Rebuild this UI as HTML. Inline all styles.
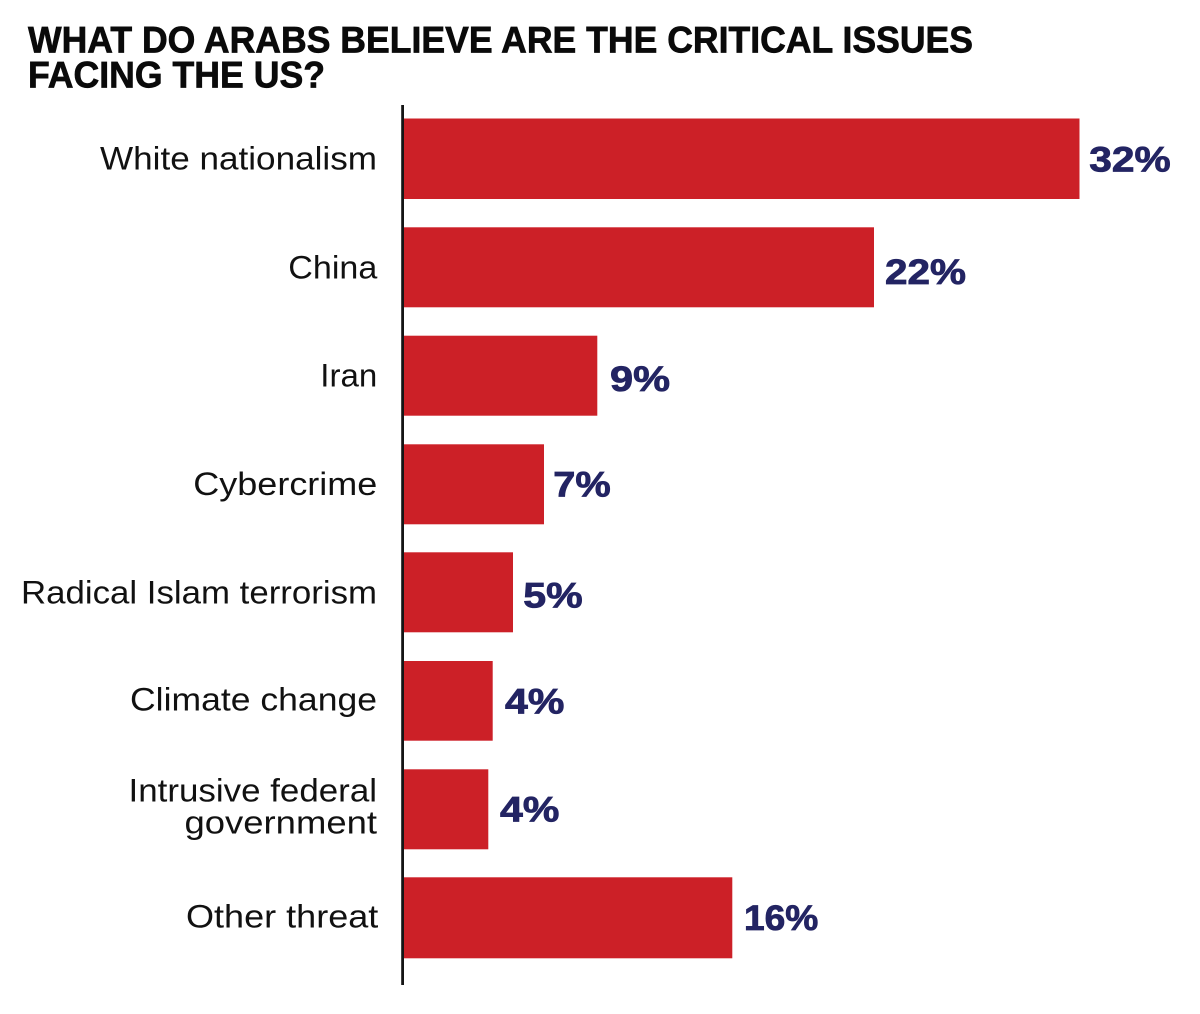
<!DOCTYPE html>
<html>
<head>
<meta charset="utf-8">
<style>
html,body{margin:0;padding:0;background:#fff;}
svg{display:block;}
</style>
</head>
<body>
<svg width="1200" height="1014" viewBox="0 0 1200 1014" xmlns="http://www.w3.org/2000/svg">
<rect width="1200" height="1014" fill="#fff"/>
<!-- Title -->
<g font-family="Liberation Sans, Arial, sans-serif" font-weight="bold" font-size="37" fill="#0a0a0a" stroke="#0a0a0a" stroke-width="0.7">
<text x="28" y="52.7" textLength="945" lengthAdjust="spacingAndGlyphs">WHAT DO ARABS BELIEVE ARE THE CRITICAL ISSUES</text>
<text x="28" y="87.3" textLength="297" lengthAdjust="spacingAndGlyphs">FACING THE US?</text>
</g>
<!-- Bars -->
<g fill="#cc2027">
<rect x="404" y="118.5" width="675.5" height="80.5"/>
<rect x="404" y="227.3" width="470" height="80"/>
<rect x="404" y="335.7" width="193.3" height="80"/>
<rect x="404" y="444.3" width="140" height="80"/>
<rect x="404" y="552.3" width="109" height="80"/>
<rect x="404" y="661" width="88.7" height="79.7"/>
<rect x="404" y="769.3" width="84.3" height="80"/>
<rect x="404" y="877.3" width="328.3" height="81"/>
</g>
<!-- Axis -->
<rect x="401.2" y="105" width="2.8" height="880" fill="#151515"/>
<!-- Category labels -->
<g font-family="Liberation Sans, Arial, sans-serif" font-size="32" fill="#111" text-anchor="end">
<text x="377" y="169.3" textLength="277" lengthAdjust="spacingAndGlyphs">White nationalism</text>
<text x="377.3" y="278.3" textLength="89" lengthAdjust="spacingAndGlyphs">China</text>
<text x="377.3" y="386.7" textLength="57" lengthAdjust="spacingAndGlyphs">Iran</text>
<text x="377.3" y="495" textLength="184" lengthAdjust="spacingAndGlyphs">Cybercrime</text>
<text x="377" y="603.3" textLength="356" lengthAdjust="spacingAndGlyphs">Radical Islam terrorism</text>
<text x="377" y="710.7" textLength="247" lengthAdjust="spacingAndGlyphs">Climate change</text>
<text x="377" y="801.7" textLength="248.5" lengthAdjust="spacingAndGlyphs">Intrusive federal</text>
<text x="377" y="833.3" textLength="192.5" lengthAdjust="spacingAndGlyphs">government</text>
<text x="378.3" y="927.3" textLength="192.3" lengthAdjust="spacingAndGlyphs">Other threat</text>
</g>
<!-- Value labels -->
<g font-family="Liberation Sans, Arial, sans-serif" font-weight="bold" font-size="35" fill="#232463" stroke="#232463" stroke-width="0.8">
<text x="1089.3" y="171.7" textLength="81.4" lengthAdjust="spacingAndGlyphs">32%</text>
<text x="885" y="284" textLength="81" lengthAdjust="spacingAndGlyphs">22%</text>
<text x="610" y="391" textLength="60" lengthAdjust="spacingAndGlyphs">9%</text>
<text x="553.3" y="496.7" textLength="57.4" lengthAdjust="spacingAndGlyphs">7%</text>
<text x="523.3" y="607.3" textLength="59.4" lengthAdjust="spacingAndGlyphs">5%</text>
<text x="505" y="713.3" textLength="59.3" lengthAdjust="spacingAndGlyphs">4%</text>
<text x="500" y="821.7" textLength="59.3" lengthAdjust="spacingAndGlyphs">4%</text>
<text x="744" y="930" textLength="74.3" lengthAdjust="spacingAndGlyphs">16%</text>
</g>
</svg>
</body>
</html>
